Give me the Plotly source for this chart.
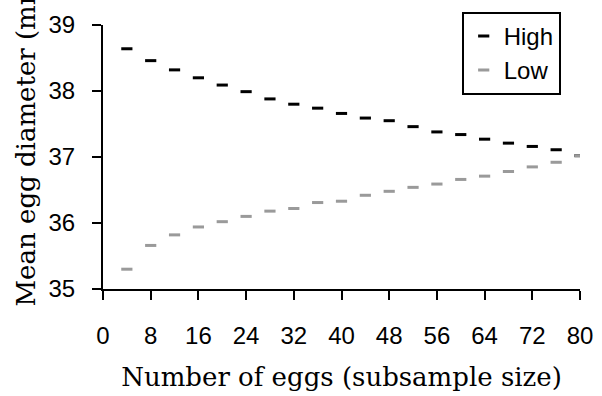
import plotly.graph_objects as go

# Subsample sizes and mean egg diameters (mm) for each group
subsample_size = [4, 8, 12, 16, 20, 24, 28, 32, 36, 40,
                  44, 48, 52, 56, 60, 64, 68, 72, 76, 80]
high_mean = [38.64, 38.46, 38.32, 38.20, 38.09, 37.99, 37.88, 37.80, 37.74, 37.66,
             37.59, 37.55, 37.46, 37.38, 37.34, 37.27, 37.21, 37.16, 37.11, 37.02]
low_mean = [35.30, 35.66, 35.82, 35.94, 36.02, 36.10, 36.18, 36.22, 36.31, 36.33,
            36.42, 36.48, 36.54, 36.59, 36.66, 36.71, 36.78, 36.85, 36.92, 37.02]
x_ticks = [0, 8, 16, 24, 32, 40, 48, 56, 64, 72, 80]
y_ticks = [35, 36, 37, 38, 39]

fig = go.Figure()
fig.add_trace(go.Scatter(
    x=subsample_size, y=high_mean, mode="markers", name="High",
    marker=dict(symbol="line-ew", size=8, color="#000000",
                line=dict(width=3, color="#000000")),
))
fig.add_trace(go.Scatter(
    x=subsample_size, y=low_mean, mode="markers", name="Low",
    marker=dict(symbol="line-ew", size=8, color="#9a9a9a",
                line=dict(width=3, color="#9a9a9a")),
))

axis_common = dict(
    showgrid=False, zeroline=False, showline=True, linecolor="#000000",
    linewidth=2, ticks="outside", ticklen=9, tickwidth=2, tickcolor="#000000",
    automargin=False,
    tickfont=dict(family="Liberation Sans", size=24, color="#000000"),
)

fig.update_layout(
    width=602, height=396,
    margin=dict(l=103, r=22, t=23, b=107),
    paper_bgcolor="#ffffff", plot_bgcolor="#ffffff",
    xaxis=dict(range=[0, 80], tickvals=x_ticks, ticklabelstandoff=15,
               title=dict(text="Number of eggs (subsample size)", standoff=20,
                          font=dict(family="DejaVu Serif", size=26, color="#000000")),
               **axis_common),
    yaxis=dict(range=[35, 39], tickvals=y_ticks, ticklabelstandoff=12,
               **axis_common),
    legend=dict(x=0.752, y=1.05, xanchor="left", yanchor="top",
                bordercolor="#000000", borderwidth=2, bgcolor="#ffffff",
                font=dict(family="Liberation Sans", size=24, color="#000000"),
                itemwidth=30, tracegroupgap=0),
    showlegend=True,
    annotations=[dict(
        text="Mean egg diameter (mm)", textangle=-90, showarrow=False,
        xref="paper", yref="paper", x=-0.162, y=-0.075,
        xanchor="center", yanchor="bottom",
        font=dict(family="DejaVu Serif", size=26, color="#000000"),
    )],
)

fig.write_html("out.html")
